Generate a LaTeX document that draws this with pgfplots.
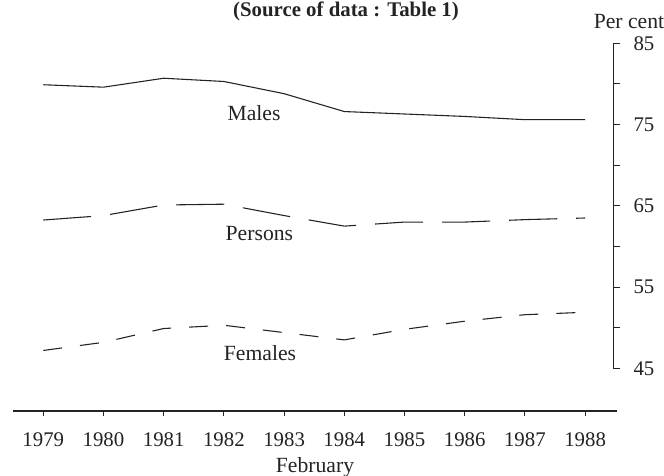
\documentclass[border=0pt]{standalone}
\usepackage{fontspec}
\setmainfont{Liberation Serif}
\usepackage{pgfplots}
\pgfplotsset{compat=1.18}
\definecolor{ink}{RGB}{35,35,35}
\begin{document}
\begin{tikzpicture}
\useasboundingbox (0pt,0pt) rectangle (398.4pt,285.6pt);
% main axis: data + x axis
\begin{axis}[
  at={(7.8pt,39pt)}, anchor=south west,
  scale only axis, width=362.4pt, height=220.62pt,
  xmin=1978.497, xmax=1988.53, ymin=39.75, ymax=85,
  axis x line=bottom, axis y line=none,
  x axis line style={-, line width=0.7pt, ink},
  xtick={1979,1980,1981,1982,1983,1984,1985,1986,1987,1988},
  xticklabels={1979,1980,1981,1982,1983,1984,1985,1986,1987,1988},
  tick align=outside, major tick length=3pt,
  xtick style={line width=0.6pt, ink},
  xticklabel style={font=\fontsize{12.5}{14}\selectfont, text=ink, yshift=-6.4pt},
  xlabel={February},
  xlabel style={font=\fontsize{13}{15}\selectfont, text=ink, yshift=0.6pt},
  clip=false,
]
\addplot[ink, line width=0.65pt] coordinates {
 (1979,79.9) (1980,79.6) (1981,80.7) (1982,80.3) (1983,78.8)
 (1984,76.6) (1985,76.3) (1986,76.0) (1987,75.6) (1988,75.6)};
\addplot[ink, line width=0.65pt, dash pattern=on 28.8pt off 11.4pt] coordinates {
 (1979,63.25) (1980,63.8) (1981,65.1) (1982,65.2) (1983,63.8)
 (1984,62.5) (1985,63.0) (1986,63.0) (1987,63.3) (1988,63.5)};
\addplot[ink, line width=0.65pt, dash pattern=on 11.4pt off 10.8pt] coordinates {
 (1979,47.2) (1980,48.2) (1981,49.9) (1982,50.3) (1983,49.4)
 (1984,48.5) (1985,49.8) (1986,50.8) (1987,51.6) (1988,51.9)};
\node[font=\fontsize{13}{15}\selectfont, text=ink] at (axis cs:1982.50,76.38) {Males};
\node[font=\fontsize{13}{15}\selectfont, text=ink] at (axis cs:1982.59,61.55) {Persons};
\node[font=\fontsize{13}{15}\selectfont, text=ink] at (axis cs:1982.60,46.88) {Females};
\end{axis}
% right-hand scale
\begin{axis}[
  at={(7.8pt,64.62pt)}, anchor=south west,
  scale only axis, width=360.18pt, height=195pt,
  xmin=0, xmax=1, ymin=45, ymax=85,
  axis x line=none, axis y line=right,
  y axis line style={-, line width=0.7pt, ink},
  ytick={45,55,65,75,85}, minor ytick={50,60,70,80},
  tick align=outside, major tick length=4.2pt, minor tick length=4.2pt,
  ytick style={line width=0.6pt, ink}, minor tick style={line width=0.6pt, ink},
  /pgf/number format/assume math mode=true,
  yticklabel style={font=\fontsize{12.5}{14}\selectfont, text=ink, xshift=4.4pt},
]
\addplot[draw=none] coordinates {(0.5,60)};
\end{axis}
\node[font=\fontsize{13}{15}\selectfont, text=ink] at (377.4pt,272.6pt) {Per cent};
\node[font=\bfseries\fontsize{12.5}{15}\selectfont, text=ink, anchor=base] at (207.6pt,275.7pt) {(Source of data : Table 1)};
\end{tikzpicture}
\end{document}
